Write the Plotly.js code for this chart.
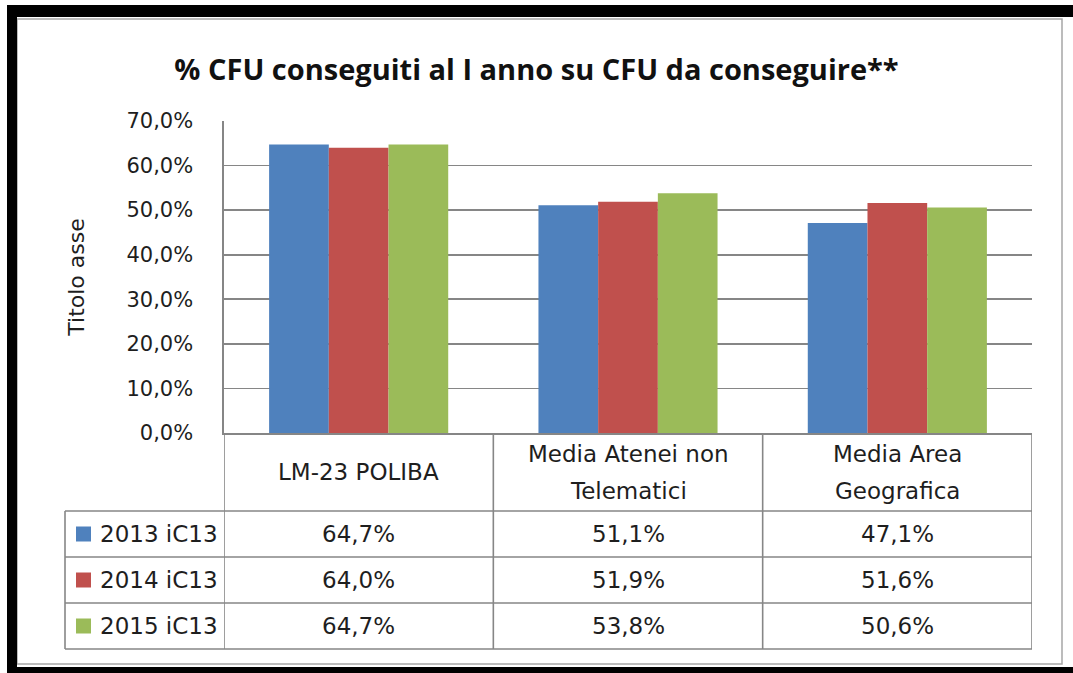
<!DOCTYPE html>
<html>
<head>
<meta charset="utf-8">
<script src="https://cdn.plot.ly/plotly-3.0.1.min.js"></script>
<style>
  html, body { margin: 0; padding: 0; background: #ffffff; }
  #chart { width: 1073px; height: 673px; }
</style>
</head>
<body>
<div id="chart"></div>
<script>
// ---- Data ----
const categories = ['LM-23 POLIBA', 'Media Atenei non Telematici', 'Media Area Geografica'];
const categoryLines = [['LM-23 POLIBA'], ['Media Atenei non', 'Telematici'], ['Media Area', 'Geografica']];
const seriesNames = ['2013 iC13', '2014 iC13', '2015 iC13'];
const values2013 = [64.7, 51.1, 47.1];
const values2014 = [64.0, 51.9, 51.6];
const values2015 = [64.7, 53.8, 50.6];
const seriesColors = ['#4f81bd', '#c0504d', '#9bbb59'];
const yTickValues = [0, 10, 20, 30, 40, 50, 60, 70];

const seriesValues = [values2013, values2014, values2015];
const fmt = v => v.toFixed(1).replace('.', ',') + '%';
const yTickText = yTickValues.map(fmt);

// ---- Layout geometry (pixels) ----
const W = 1073, H = 673;
const plotL = 224, plotR = 1032, plotT = 121, plotB = 433;
const pw = plotR - plotL, ph = plotB - plotT;
const X = px => (px - plotL) / pw;        // pixel -> paper x
const Y = py => (plotB - py) / ph;        // pixel -> paper y

const gridColor = '#868686';
const textColor = '#1e1e1e';
const tableFont = {family: 'DejaVu Sans, Verdana, sans-serif', size: 23, color: textColor};

const traces = seriesNames.map((name, i) => ({
  type: 'bar',
  name: name,
  x: categories,
  y: seriesValues[i],
  marker: {color: seriesColors[i], line: {width: 0}},
  hoverinfo: 'skip'
}));

// ---- Table geometry ----
const headerBottom = 511;
const rowLines = [557, 603, 649];
const legendLeft = 65;

const shapes = [];
const annotations = [];

const rectPx = (x0, y0, x1, y1, fill, line) => ({
  type: 'rect', xref: 'paper', yref: 'paper',
  x0: X(x0), x1: X(x1), y0: Y(y1), y1: Y(y0),
  fillcolor: fill, line: line || {width: 0}, layer: 'above'
});
// chart area border and outer black frame
shapes.push(rectPx(17, 19, 1062, 664, 'rgba(0,0,0,0)', {color: '#a6a6a6', width: 1.5}));
shapes.push(rectPx(7, 5, 17, 673, '#000000'));
shapes.push(rectPx(7, 5, 1073, 17, '#000000'));
shapes.push(rectPx(7, 667, 1073, 673, '#000000'));

const lineShape = (x0, y0, x1, y1, xref) => ({
  type: 'line', xref: xref || 'paper', yref: 'paper',
  x0: x0, x1: x1, y0: Y(y0), y1: Y(y1),
  line: {color: gridColor, width: 1.6}, layer: 'above'
});

// vertical category boundaries of the data table (on category axis)
for (let k = 0; k <= categories.length; k++) {
  shapes.push(lineShape(k - 0.5, plotB, k - 0.5, rowLines[rowLines.length - 1], 'x'));
}
// legend column left edge
shapes.push(lineShape(X(legendLeft), headerBottom, X(legendLeft), rowLines[rowLines.length - 1]));
// horizontal lines
shapes.push(lineShape(X(legendLeft), headerBottom, 1, headerBottom));
rowLines.forEach(r => shapes.push(lineShape(X(legendLeft), r, 1, r)));

// header text
categoryLines.forEach((lines, ci) => {
  const cy = (plotB + headerBottom) / 2;
  const lh = 37;
  lines.forEach((t, li) => {
    const yy = cy + (li - (lines.length - 1) / 2) * lh;
    annotations.push({
      xref: 'x', yref: 'paper', x: ci, y: Y(yy), text: t, showarrow: false,
      xanchor: 'center', yanchor: 'middle', font: tableFont
    });
  });
});

// rows: legend key + values
seriesNames.forEach((name, si) => {
  const top = si === 0 ? headerBottom : rowLines[si - 1];
  const cy = (top + rowLines[si]) / 2;
  shapes.push(rectPx(76, cy - 7.5, 91, cy + 7.5, seriesColors[si]));
  annotations.push({
    xref: 'paper', yref: 'paper', x: X(98), y: Y(cy), text: name, showarrow: false,
    xanchor: 'left', yanchor: 'middle', font: tableFont
  });
  seriesValues[si].forEach((v, ci) => {
    annotations.push({
      xref: 'x', yref: 'paper', x: ci, y: Y(cy), text: fmt(v), showarrow: false,
      xanchor: 'center', yanchor: 'middle', font: tableFont
    });
  });
});

const layout = {
  width: W, height: H,
  margin: {l: plotL, r: W - plotR, t: plotT, b: H - plotB, pad: 0},
  paper_bgcolor: '#ffffff', plot_bgcolor: '#ffffff',
  showlegend: false,
  barmode: 'group',
  bargap: 0.335, bargroupgap: 0,
  title: {
    text: '<b>% CFU conseguiti al I anno su CFU da conseguire**</b>',
    font: {family: 'Open Sans, sans-serif', size: 29, color: '#111111'},
    x: 0.5, xref: 'container', xanchor: 'center',
    y: 1 - 70 / H, yref: 'container', yanchor: 'middle'
  },
  xaxis: {
    type: 'category', range: [-0.5, 2.5], showticklabels: false, ticks: '',
    showgrid: false, zeroline: false, showline: true, linecolor: gridColor, linewidth: 1.6,
    fixedrange: true
  },
  yaxis: {
    range: [0, 70], tickmode: 'array', tickvals: yTickValues, ticktext: yTickText,
    showgrid: true, gridcolor: gridColor, gridwidth: 1.6, zeroline: false,
    showline: true, linecolor: gridColor, linewidth: 1.6, ticks: '',
    ticklabelstandoff: 25,
    tickfont: {family: 'DejaVu Sans, Verdana, sans-serif', size: 21, color: textColor},
    title: {text: 'Titolo asse', standoff: 36,
      font: {family: 'DejaVu Sans, Verdana, sans-serif', size: 22, color: textColor}},
    fixedrange: true
  },
  shapes: shapes,
  annotations: annotations
};

Plotly.newPlot('chart', traces, layout, {displayModeBar: false, staticPlot: true});
</script>
</body>
</html>
